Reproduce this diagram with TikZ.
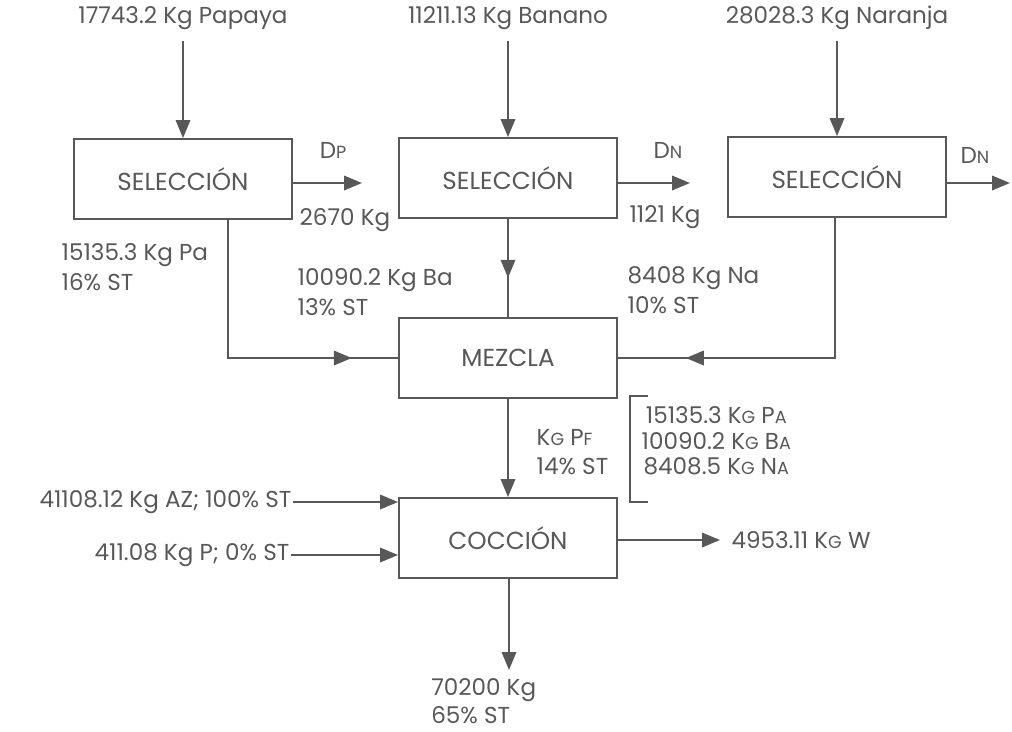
\documentclass[tikz,border=0pt]{standalone}
\usepackage{fontspec}
\setmainfont{Poppins}
\usetikzlibrary{arrows.meta, positioning, decorations.markings, calc}
\definecolor{flowgray}{RGB}{88, 88, 88}
\newcommand{\smc}[1]{{\fontsize{12.5}{14}\selectfont #1}}

\begin{document}
\begin{tikzpicture}[x=0.025cm, y=-0.025cm,
    proc/.style={rectangle, draw=flowgray, line width=1.3pt, minimum width=5.45cm,
                 minimum height=2cm, font=\fontsize{17.5}{20}\selectfont, text=flowgray},
    txt/.style={font=\fontsize{16.4}{21}\selectfont, text=flowgray, inner sep=1pt},
    flow/.style={line width=1.5pt, draw=flowgray},
    arr/.style={flow, -{Triangle[length=4.5mm, width=3.6mm]}},
    midarr/.style={flow, postaction={decorate}, decoration={markings,
                   mark=at position #1 with {\arrow[flowgray]{Triangle[length=4.5mm, width=3.6mm]}}}}
]
    \useasboundingbox (0,0) rectangle (1012,731);

    % process boxes
    \node[proc] (sel1) at (183,179) {SELECCIÓN};
    \node[proc] (sel2) at (508,178) {SELECCIÓN};
    \node[proc] (sel3) at (837,177) {SELECCIÓN};
    \node[proc] (mez) at (508,358) {MEZCLA};
    \node[proc] (coc) at (508,538) {COCCIÓN};

    % fruit inputs
    \node[txt, inner sep=8pt] (inPap) at (183,18) {17743.2 Kg Papaya};
    \node[txt, inner sep=8pt] (inBan) at (508,18) {11211.13 Kg Banano};
    \node[txt, inner sep=8pt] (inNar) at (837,18) {28028.3 Kg Naranja};
    \draw[arr] (inPap.south -| sel1) -- (sel1);
    \draw[arr] (inBan.south -| sel2) -- (sel2);
    \draw[arr] (inNar.south -| sel3) -- (sel3);

    % discards
    \coordinate (dP) at (362,183);
    \coordinate (dN1) at (690,183);
    \coordinate (dN2) at (1010,183);
    \draw[arr] (sel1.east |- dP) -- (dP);
    \draw[arr] (sel2.east |- dN1) -- (dN1);
    \draw[arr] (sel3.east |- dN2) -- (dN2);
    \node[txt] at (333,150) {D\smc{P}};
    \node[txt] at (345,220) {2670 Kg};
    \node[txt] at (668,150) {D\smc{N}};
    \node[txt] at (665,217) {1121 Kg};
    \node[txt] at (975,155) {D\smc{N}};

    % to the mixer
    \draw[midarr=0.85] ($(sel1.south)+(45,0)$) |- (mez.west);
    \draw[midarr=0.6] (sel2) -- (mez);
    \draw[midarr=0.81] ($(sel3.south)+(-2,0)$) |- (mez.east);
    \node[txt, align=left, anchor=west] at (60,267) {15135.3 Kg Pa\\16\% ST};
    \node[txt, align=left, anchor=west] at (296,292) {10090.2 Kg Ba\\13\% ST};
    \node[txt, align=left, anchor=west] at (626,290) {8408 Kg Na\\10\% ST};

    % mixer to cooking
    \draw[arr] (mez) -- (coc);
    \node[txt, align=left, anchor=west] at (535,452) {K\smc{G} P\smc{F}\\14\% ST};
    \draw[flow, line width=1.2pt] (648,396) -| (630,502) -- (648,502);
    \node[txt, align=center, anchor=west, font=\fontsize{16.4}{18.2}\selectfont] (mezcomp) at (640,441)
        {15135.3 K\smc{G} P\smc{A}\\10090.2 K\smc{G} B\smc{A}\\8408.5 K\smc{G} N\smc{A}};

    % sugar and pectin
    \node[txt, anchor=east] (inAz) at (293,502) {41108.12 Kg AZ; 100\% ST};
    \node[txt, anchor=east] (inPe) at (291,555) {411.08 Kg P; 0\% ST};
    \draw[arr] (inAz) -- (coc.west |- inAz);
    \draw[arr] (inPe) -- (coc.west |- inPe);

    % outputs
    \node[txt, anchor=west, inner sep=8pt] (outW) at (720,540) {4953.11 K\smc{G} W};
    \draw[arr] (coc.east |- outW) -- (outW);
    \coordinate (prod) at (509,670);
    \draw[arr] (coc.south -| prod) -- (prod);
    \node[txt, align=left, anchor=west, inner sep=0pt, font=\fontsize{16.4}{20}\selectfont] (outProd) at (431,701) {70200 Kg\\65\% ST};
\end{tikzpicture}
\end{document}
